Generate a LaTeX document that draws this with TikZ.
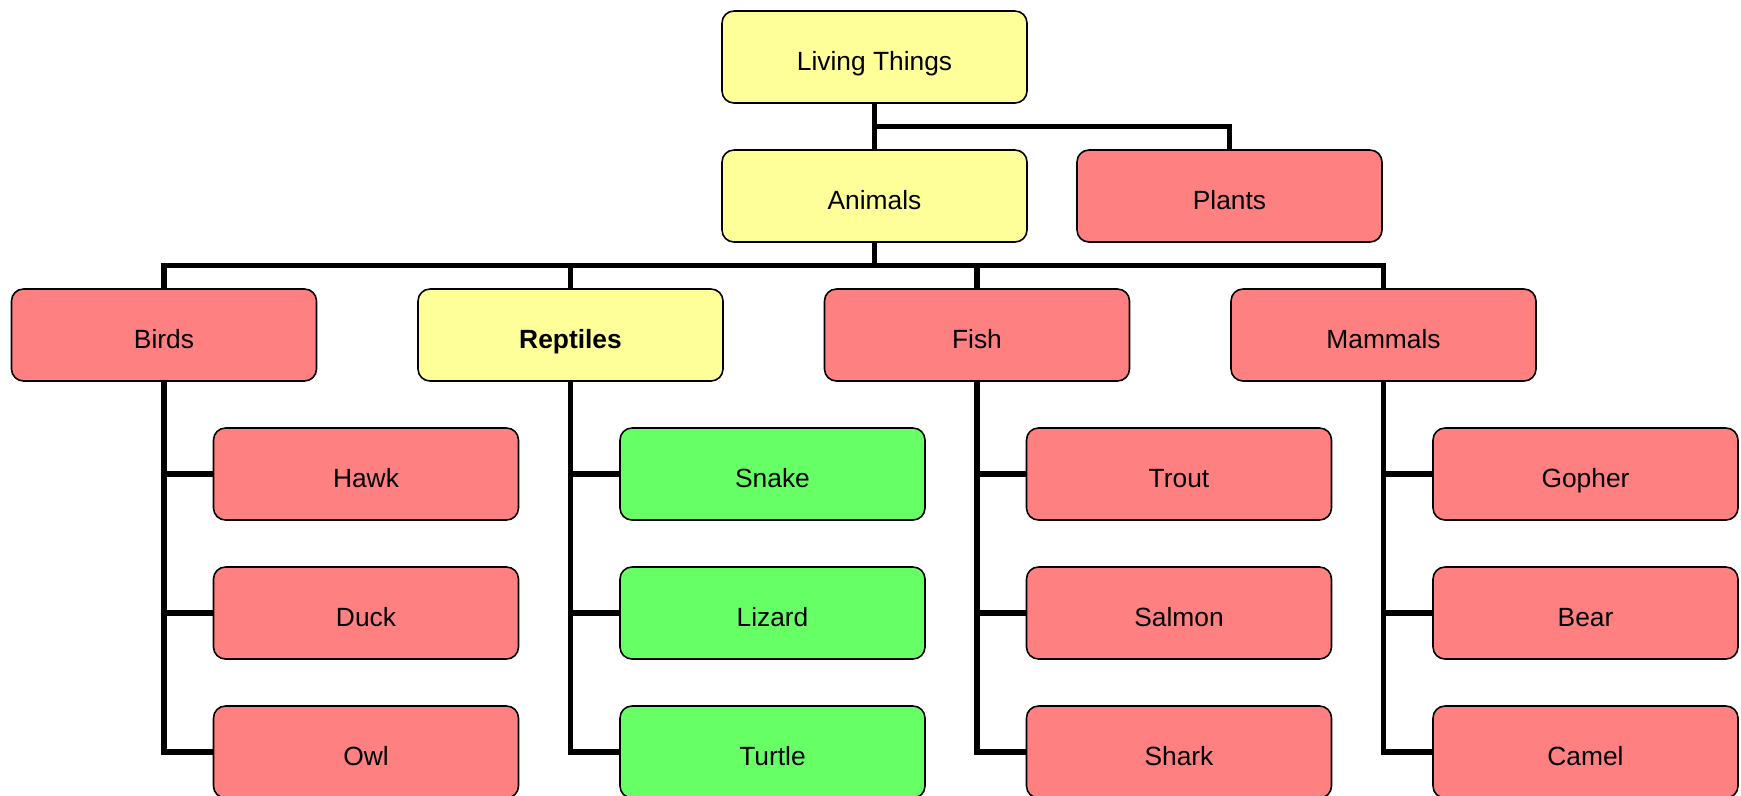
\documentclass[tikz,border=0pt]{standalone}
\usepackage{fontspec}
\setmainfont{Liberation Sans}
\definecolor{itemyellow}{RGB}{255,255,153}
\definecolor{itemred}{RGB}{255,128,128}
\definecolor{itemgreen}{RGB}{102,255,102}
\tikzset{
  item/.style={draw, line width=0.45pt, rounded corners=1.2mm, minimum width=30.5mm,
    minimum height=9.2mm, inner sep=0pt, text height=0.75em, text depth=0pt,
    font=\fontsize{7.5}{9}\selectfont},
  yellowbox/.style={item, fill=itemyellow},
  redbox/.style={item, fill=itemred},
  greenbox/.style={item, fill=itemgreen},
  link/.style={line width=1.6pt}
}
\begin{document}
\begin{tikzpicture}[x=0.1mm, y=-0.1mm]
	\useasboundingbox (0, 0) rectangle (1741, 795);
	% top levels
	\node[yellowbox] (living) at (874.5, 57) {Living Things};
	\node[yellowbox] (animals) at (874.5, 196) {Animals};
	\node[redbox] (plants) at (1229.5, 196) {Plants};
	% groups
	\node[redbox] (birds) at (164, 335) {Birds};
	\node[yellowbox] (reptiles) at (570.5, 335) {\textbf{Reptiles}};
	\node[redbox] (fish) at (977, 335) {Fish};
	\node[redbox] (mammals) at (1383.5, 335) {Mammals};
	% members
	\node[redbox] (hawk) at (366, 474) {Hawk};
	\node[redbox] (duck) at (366, 613) {Duck};
	\node[redbox] (owl) at (366, 752) {Owl};
	\node[greenbox] (snake) at (772.5, 474) {Snake};
	\node[greenbox] (lizard) at (772.5, 613) {Lizard};
	\node[greenbox] (turtle) at (772.5, 752) {Turtle};
	\node[redbox] (trout) at (1179, 474) {Trout};
	\node[redbox] (salmon) at (1179, 613) {Salmon};
	\node[redbox] (shark) at (1179, 752) {Shark};
	\node[redbox] (gopher) at (1585.5, 474) {Gopher};
	\node[redbox] (bear) at (1585.5, 613) {Bear};
	\node[redbox] (camel) at (1585.5, 752) {Camel};
	% buses
	\coordinate (topbus) at (874.5, 126.5);
	\coordinate (midbus) at (874.5, 265.5);
	\draw[link] (living.south) -- (animals.north);
	\draw[link] (topbus) -| (plants.north);
	\draw[link] (animals.south) -- (midbus);
	\draw[link] (birds.north) |- (midbus) -| (mammals.north);
	\draw[link] (reptiles.north) -- (reptiles.north |- midbus);
	\draw[link] (fish.north) -- (fish.north |- midbus);
	% members hang off their group
	\foreach \grp/\one/\two/\three in {birds/hawk/duck/owl, reptiles/snake/lizard/turtle,
	    fish/trout/salmon/shark, mammals/gopher/bear/camel} {
		\draw[link] (\grp.south) |- (\three.west);
		\draw[link] (\grp.south |- \one.west) -- (\one.west);
		\draw[link] (\grp.south |- \two.west) -- (\two.west);
	}
\end{tikzpicture}
\end{document}
